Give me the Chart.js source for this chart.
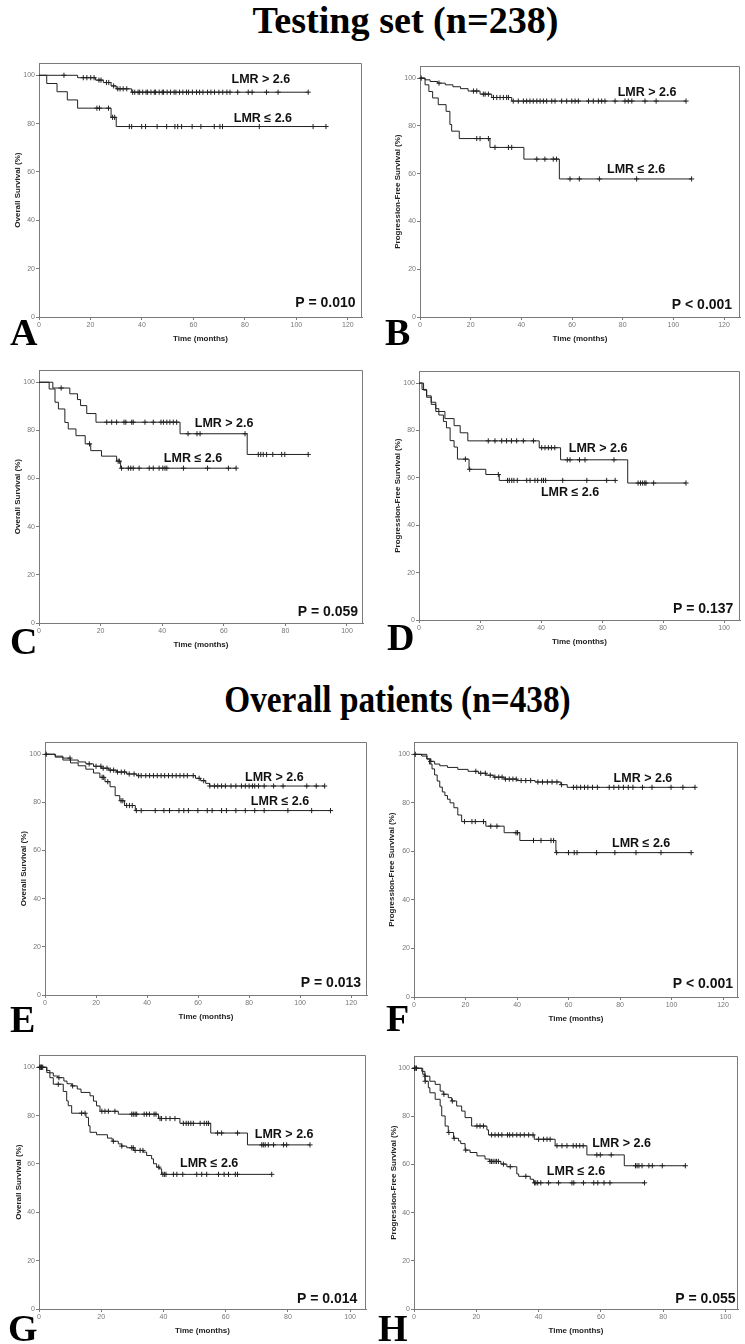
<!DOCTYPE html>
<html>
<head>
<meta charset="utf-8">
<script src="https://cdn.jsdelivr.net/npm/chart.js@4.4.1/dist/chart.umd.min.js"></script>
<style>
  body { margin: 0; background: #fff; width: 745px; height: 1344px; position: relative; overflow: hidden; }
  canvas { position: absolute; }
  .title { position: absolute; left: 0; width: 745px; text-align: center; font: bold 37px "Liberation Serif", "Times New Roman", serif; line-height: 37px; color: #000; transform-origin: 50% 50%; }
  .letter { position: absolute; font: bold 38px "Liberation Serif", "Times New Roman", serif; line-height: 38px; color: #000; }
</style>
</head>
<body>
<div class="title" style="top:2px; left:33px; transform:scaleX(1.03)">Testing set (n=238)</div>
<div class="title" style="top:681px; left:25px; transform:scaleX(0.9)">Overall patients (n=438)</div>
<script>
// Axis ticks and labels
const X_TICKS_120 = [0, 20, 40, 60, 80, 100, 120];
const X_TICKS_100 = [0, 20, 40, 60, 80, 100];
const Y_TICKS = [0, 20, 40, 60, 80, 100];
const GROUPS = ['LMR > 2.6', 'LMR \u2264 2.6'];
const OS_TITLE = 'Overall Survival (%)';
const PFS_TITLE = 'Progression-Free Survival (%)';
const P_VALUES = ['P = 0.010', 'P < 0.001', 'P = 0.059', 'P = 0.137', 'P = 0.013', 'P < 0.001', 'P = 0.014', 'P = 0.055'];

// Panel A - testing set OS (T = event times, S = survival %, C = censored times)
const A_hiT = [0, 15, 22, 25, 28, 30, 36];
const A_hiS = [100, 99.0, 98.0, 97.0, 95.6, 94.4, 93.0];
const A_hiC = [9.7, 17.2, 18.6, 20.1, 21.4, 23.3, 24.1, 26.2, 27.1, 29.0, 30.6, 31.5, 32.7, 34.1, 36.4, 37.2, 38.5, 39.1, 40.3, 41.6, 42.2, 43.5, 44.8, 45.3, 46.7, 47.9, 48.4, 49.8, 51.1, 52.5, 53.2, 54.6, 55.9, 57.3, 58.1, 59.6, 61.2, 62.4, 63.7, 65.5, 66.8, 68.2, 69.9, 71.4, 73.0, 74.2, 77.2, 81.3, 82.8, 88.4, 92.9, 104.6];
const A_loT = [0, 3, 7, 11, 15, 28, 30];
const A_loS = [100, 96.6, 93.2, 89.8, 86.4, 82.6, 78.8];
const A_loC = [22.5, 23.5, 27.0, 28.6, 29.4, 35.1, 36.0, 39.9, 41.4, 45.9, 49.6, 52.8, 53.9, 55.4, 59.5, 62.9, 68.1, 70.3, 71.3, 85.6, 106.5, 111.5];

// Panel B - testing set PFS
const B_hiT = [0, 2, 4, 7, 10, 13, 16, 19, 23.7, 28.3, 36.2];
const B_hiS = [100, 99.3, 98.6, 97.9, 97.2, 96.4, 95.6, 94.6, 93.3, 91.9, 90.4];
const B_hiC = [0.5, 7.5, 21.1, 22.4, 25.0, 25.7, 27.0, 29.0, 30.3, 31.6, 32.9, 34.2, 34.9, 36.8, 38.8, 40.8, 42.1, 43.4, 44.7, 46.1, 47.4, 48.7, 50.0, 52.0, 53.3, 55.9, 57.9, 59.9, 61.2, 62.5, 66.5, 68.4, 70.4, 71.7, 73.0, 77.0, 80.9, 82.2, 83.6, 88.8, 93.2, 105.0];
const B_loT = [0, 2, 3.5, 5, 7.2, 10.3, 11.8, 12.5, 15.5, 27.6, 41, 55];
const B_loS = [100, 97.2, 94.4, 91.7, 88.9, 86.1, 80.6, 77.8, 74.7, 71.0, 66.1, 57.8];
const B_loC = [22.4, 23.7, 27.0, 29.6, 34.9, 36.2, 46.1, 49.3, 52.6, 53.9, 59.2, 62.9, 70.8, 85.5, 107.2];

// Panel C
const C_hiT = [0, 4.5, 10, 12.5, 13.5, 15.5, 18.5, 45.8, 67.6];
const C_hiS = [100, 97.6, 95.2, 92.8, 90.3, 87.0, 83.4, 78.6, 70.0];
const C_hiC = [7.2, 22.0, 23.6, 25.2, 27.6, 28.2, 30.1, 30.6, 34.4, 37.1, 39.6, 40.4, 41.5, 42.5, 43.6, 44.7, 48.4, 51.3, 52.3, 66.9, 71.2, 72.0, 72.8, 73.9, 75.9, 78.8, 79.8, 87.4];
const C_loT = [0, 3.3, 5.2, 6.3, 8.4, 9.5, 12, 15, 16.8, 20.3, 25.2, 26.5];
const C_loS = [100, 97.2, 91.7, 88.9, 83.3, 80.6, 77.8, 74.4, 71.6, 69.3, 67.2, 64.3];
const C_loC = [16.4, 25.7, 26.1, 26.8, 29.0, 29.8, 30.6, 32.5, 35.8, 37.1, 39.0, 40.2, 40.9, 41.5, 46.9, 54.7, 61.5, 64.0];

// Panel D
const D_hiT = [0, 1.5, 2.5, 4, 5.5, 8.5, 11.5, 13.5, 16, 39.4, 46.4, 68.4];
const D_hiS = [100, 97.0, 94.0, 91.0, 88.0, 85.0, 82.0, 79.0, 75.6, 72.7, 67.6, 57.8];
const D_hiC = [22.7, 24.9, 27.1, 28.7, 30.3, 32.0, 34.2, 37.5, 40.2, 41.3, 42.4, 43.4, 44.5, 48.6, 49.5, 52.6, 54.4, 63.9, 71.8, 72.6, 73.3, 74.0, 74.4, 76.9, 87.5];
const D_loT = [0, 1, 2.5, 4, 5.5, 6.5, 8, 9, 10.2, 11.5, 12.6, 16.4, 21.9, 26.3];
const D_loS = [100, 97.3, 94.6, 91.9, 89.2, 86.5, 83.8, 81.1, 75.7, 73.0, 67.9, 63.6, 61.4, 58.9];
const D_loC = [15.2, 16.6, 26.0, 29.0, 29.6, 30.4, 31.1, 32.2, 35.3, 36.4, 38.0, 38.9, 40.2, 40.8, 41.5, 47.1, 55.0, 61.5, 64.3];

// Panel E - overall patients OS
const E_hiT = [0, 4, 7, 10, 13, 16, 19, 22, 25, 28, 32, 36, 59, 61, 63, 64.5];
const E_hiS = [100, 99.2, 98.4, 97.6, 96.8, 96.0, 95.0, 94.2, 93.4, 92.6, 91.8, 91.1, 90.0, 89.0, 87.9, 86.8];
const E_hiC = [0.5, 9.8, 17.3, 20.0, 21.9, 22.8, 24.3, 25.6, 26.9, 28.4, 29.9, 31.2, 33.0, 34.9, 36.7, 37.7, 39.5, 41.0, 42.5, 44.0, 45.5, 46.9, 48.4, 49.9, 51.4, 52.9, 54.4, 55.8, 58.1, 60.4, 62.2, 64.6, 66.4, 67.7, 69.2, 70.7, 72.9, 74.8, 77.0, 78.5, 80.0, 81.3, 82.2, 83.7, 85.9, 89.6, 93.3, 102.6, 106.3, 109.6];
const E_loT = [0, 4, 7, 10, 13, 16, 19, 21.5, 23.5, 25.5, 27.5, 29.3, 31.2, 35.4];
const E_loS = [100, 98.8, 97.6, 96.4, 95.2, 93.8, 92.2, 90.4, 88.6, 86.5, 82.8, 80.7, 78.7, 76.6];
const E_loC = [22.4, 23.0, 24.6, 29.8, 30.5, 32.0, 33.1, 34.2, 35.8, 37.7, 43.2, 46.6, 48.8, 52.5, 54.4, 56.2, 59.9, 63.6, 65.5, 69.2, 71.1, 74.8, 78.5, 82.2, 85.9, 95.2, 104.5, 111.9];

// Panel F - overall patients PFS
const F_hiT = [0, 3, 5, 6.5, 8, 10, 13, 17, 21, 25, 28, 31, 35, 40, 47, 57, 59.5];
const F_hiS = [100, 99.3, 98.2, 97.1, 96.0, 95.3, 94.6, 93.8, 93.0, 92.2, 91.4, 90.6, 89.8, 89.2, 88.6, 87.5, 86.4];
const F_hiC = [0.5, 6.5, 24.0, 25.9, 27.7, 29.6, 31.4, 32.9, 34.2, 35.5, 37.0, 38.4, 39.7, 41.6, 43.4, 45.3, 48.1, 49.9, 51.8, 53.6, 55.5, 57.3, 61.9, 63.2, 64.7, 66.2, 67.5, 69.3, 71.2, 75.8, 77.6, 79.5, 81.3, 83.2, 85.0, 88.7, 92.4, 99.8, 104.4, 109.1];
const F_loT = [0, 5, 6, 7, 8, 9, 10, 11, 12, 13, 14, 15.5, 17, 18.5, 27.9, 35.0, 41.1, 55.1];
const F_loS = [100, 98, 96, 94, 91.5, 89, 86.5, 84.5, 83, 81.5, 80, 78, 75, 72.3, 70.4, 67.7, 64.5, 59.5];
const F_loC = [19.6, 22.5, 23.8, 27.0, 29.8, 32.2, 39.6, 40.2, 46.4, 49.3, 53.2, 54.2, 55.4, 60.0, 62.2, 63.3, 70.9, 78.0, 86.2, 95.9, 107.6];

// Panel G
const G_hiT = [0, 2.5, 3.5, 4.6, 6, 8, 9, 10.5, 12.3, 13.5, 16.4, 17.5, 18.5, 19.6, 25.5, 38.4, 45.3, 55.2, 67.0];
const G_hiS = [100, 98.7, 97.7, 96.4, 95.7, 94.3, 93.2, 92.3, 91.0, 89.6, 88.2, 86.0, 84.0, 81.8, 80.6, 78.8, 76.8, 72.8, 67.9];
const G_hiC = [0.3, 0.6, 0.9, 1.2, 6.4, 10.8, 20.2, 21.2, 22.3, 24.4, 29.8, 30.3, 30.9, 31.4, 33.8, 34.6, 35.5, 37.0, 37.6, 38.9, 39.4, 40.8, 42.1, 43.7, 46.4, 47.3, 48.0, 48.8, 49.6, 51.8, 53.1, 53.9, 54.5, 57.4, 58.7, 63.8, 71.6, 72.1, 72.7, 73.7, 75.4, 78.6, 79.6, 87.1];
const G_loT = [0, 2.5, 3.5, 4.6, 7.8, 8.9, 9.4, 10.5, 15.1, 15.9, 16.4, 18.5, 22, 23.5, 25.5, 26.6, 28.2, 30.5, 33.5, 34.6, 36.2, 36.8, 37.8, 38.7, 39.4];
const G_loS = [100, 97.8, 95.7, 93.0, 90.0, 86.1, 84.1, 81.0, 79.3, 75.8, 73.1, 72.1, 70.7, 69.4, 68.3, 67.4, 66.7, 65.6, 64.9, 63.5, 62.1, 60.1, 58.7, 58.0, 55.7];
const G_loC = [0.3, 0.8, 6.2, 13.7, 14.8, 23.9, 26.6, 29.8, 30.3, 30.9, 32.5, 33.4, 38.5, 39.8, 40.3, 40.8, 43.2, 44.3, 46.2, 50.7, 52.3, 53.9, 57.7, 59.5, 60.9, 63.1, 63.8, 74.8];

// Panel H
const H_hiT = [0, 2.5, 3.5, 5.1, 6.8, 8.4, 9.4, 11.0, 12.1, 13.7, 15.3, 16.4, 18.5, 23.4, 23.9, 38.6, 45.3, 55.5, 67.5];
const H_hiS = [100, 98.7, 96.7, 94.6, 93.3, 90.5, 89.2, 87.8, 86.4, 84.3, 82.2, 79.5, 76.0, 74.4, 72.3, 70.5, 67.8, 64.0, 59.5];
const H_hiC = [0.2, 0.6, 3.6, 9.6, 12.3, 20.2, 21.2, 22.3, 24.9, 26.0, 27.1, 28.2, 30.0, 30.7, 31.7, 33.0, 34.1, 35.4, 36.8, 38.2, 40.0, 41.6, 42.7, 43.7, 45.9, 47.5, 49.1, 51.1, 52.1, 53.2, 54.3, 58.7, 59.8, 63.3, 71.1, 71.6, 72.2, 73.2, 75.4, 76.5, 79.7, 87.1];
const H_loT = [0, 2.8, 3.5, 4.6, 5.1, 6.8, 8.4, 8.9, 10.0, 11.0, 12.7, 14.3, 15.0, 16.4, 18.0, 20.2, 22.8, 24.2, 27.9, 29.8, 33.0, 33.6, 37.3, 38.4];
const H_loS = [100, 97.5, 94.6, 91.9, 89.8, 87.1, 84.3, 80.2, 76.0, 73.3, 70.9, 69.8, 68.7, 66.0, 65.0, 63.6, 62.3, 61.3, 60.2, 59.1, 56.1, 55.1, 53.9, 52.4];
const H_loC = [0.2, 0.8, 3.6, 11.2, 12.9, 16.6, 24.4, 24.9, 25.4, 26.0, 26.5, 27.1, 28.7, 30.9, 35.9, 38.7, 39.1, 39.7, 40.7, 43.2, 46.4, 50.7, 51.3, 54.4, 57.7, 59.0, 61.0, 62.9, 74.0];

const SANS = '"Liberation Sans", Arial, sans-serif';
const INK = '#222';
const EDGE = '#7a7a7a';
const TICK = '#777';

// panel layout in page pixels: plot box edges, x range, label anchors (data units)
const panels = [
  { id: 'A', col: 0, left: 39, right: 362, top: 62, bottom: 317, xMax: 125.5, xTicks: X_TICKS_120, yTitle: OS_TITLE, yTitleX: 18,
    hi: [A_hiT, A_hiS, A_hiC], lo: [A_loT, A_loS, A_loC], hiAt: [86.2, 98.1], loAt: [87, 82.2], pAt: [123, 5.8], p: P_VALUES[0], letter: [10, 345] },
  { id: 'B', col: 1, left: 420, right: 740, top: 65, bottom: 317, xMax: 126.3, xTicks: X_TICKS_120, yTitle: PFS_TITLE, yTitleX: 398,
    hi: [B_hiT, B_hiS, B_hiC], lo: [B_loT, B_loS, B_loC], hiAt: [89.6, 93.8], loAt: [85.3, 61.7], pAt: [123.2, 5], p: P_VALUES[1], letter: [385, 345] },
  { id: 'C', col: 0, left: 39, right: 363, top: 369, bottom: 623, xMax: 105.2, xTicks: X_TICKS_100, yTitle: OS_TITLE, yTitleX: 18,
    hi: [C_hiT, C_hiS, C_hiC], lo: [C_loT, C_loS, C_loC], hiAt: [60.1, 82.8], loAt: [50, 68.3], pAt: [103.6, 4.6], p: P_VALUES[2], letter: [10, 654] },
  { id: 'D', col: 1, left: 419, right: 740, top: 370, bottom: 620, xMax: 105.2, xTicks: X_TICKS_100, yTitle: PFS_TITLE, yTitleX: 398,
    hi: [D_hiT, D_hiS, D_hiC], lo: [D_loT, D_loS, D_loC], hiAt: [58.7, 72.2], loAt: [49.5, 53.7], pAt: [103, 4.6], p: P_VALUES[3], letter: [387, 650] },
  { id: 'E', col: 0, left: 45, right: 369, top: 741, bottom: 995, xMax: 126.2, xTicks: X_TICKS_120, yTitle: OS_TITLE, yTitleX: 24,
    hi: [E_hiT, E_hiS, E_hiC], lo: [E_loT, E_loS, E_loC], hiAt: [89.9, 90.3], loAt: [92.1, 80.3], pAt: [123.9, 5], p: P_VALUES[4], letter: [10, 1032] },
  { id: 'F', col: 1, left: 414, right: 738, top: 741, bottom: 997, xMax: 125.8, xTicks: X_TICKS_120, yTitle: PFS_TITLE, yTitleX: 392,
    hi: [F_hiT, F_hiS, F_hiC], lo: [F_loT, F_loS, F_loC], hiAt: [88.9, 90.0], loAt: [88.2, 63.3], pAt: [123.9, 5.3], p: P_VALUES[5], letter: [386, 1031] },
  { id: 'G', col: 0, left: 39, right: 366, top: 1054, bottom: 1309, xMax: 105.1, xTicks: X_TICKS_100, yTitle: OS_TITLE, yTitleX: 19,
    hi: [G_hiT, G_hiS, G_hiC], lo: [G_loT, G_loS, G_loC], hiAt: [78.8, 72.1], loAt: [54.7, 60.2], pAt: [102.3, 4], p: P_VALUES[6], letter: [8, 1341] },
  { id: 'H', col: 1, left: 414, right: 738, top: 1055, bottom: 1309, xMax: 104, xTicks: X_TICKS_100, yTitle: PFS_TITLE, yTitleX: 394,
    hi: [H_hiT, H_hiS, H_hiC], lo: [H_loT, H_loS, H_loC], hiAt: [66.6, 68.6], loAt: [52, 57.1], pAt: [103.2, 4], p: P_VALUES[7], letter: [378, 1341] }
];

// survival value in effect at time t (step function)
function survAt(times, surv, t) {
  let s = surv[0];
  for (let i = 0; i < times.length; i++) {
    if (times[i] <= t) s = surv[i];
  }
  return s;
}

function stepPoints([times, surv, cens]) {
  const pts = times.map((t, i) => ({ x: t, y: surv[i] }));
  const end = Math.max(times[times.length - 1], ...cens);
  pts.push({ x: end, y: surv[surv.length - 1] });
  return pts;
}

function censorPoints([times, surv, cens]) {
  return cens.map(t => ({ x: t, y: survAt(times, surv, t) }));
}

function drawPanel(p) {
  const cl = p.col ? 372 : 0;
  const cw = p.col ? 373 : 372;
  const ct = p.top - 4;
  const ch = p.bottom + 32 - ct;

  const cv = document.createElement('canvas');
  cv.width = cw;
  cv.height = ch;
  cv.style.left = cl + 'px';
  cv.style.top = ct + 'px';
  cv.style.width = cw + 'px';
  cv.style.height = ch + 'px';
  document.body.appendChild(cv);

  const letter = document.createElement('div');
  letter.className = 'letter';
  letter.textContent = p.id;
  letter.style.left = p.letter[0] + 'px';
  letter.style.top = (p.letter[1] - 32) + 'px';
  document.body.appendChild(letter);

  const line = data => ({ data, showLine: true, stepped: true, borderColor: INK, borderWidth: 1, pointRadius: 0, fill: false });
  const cross = data => ({ data, showLine: false, pointStyle: 'cross', pointRadius: 2.6, pointBorderColor: INK, pointBorderWidth: 1, pointBackgroundColor: INK, clip: false });

  const notes = [
    { text: GROUPS[0], at: p.hiAt, size: 12.5, align: 'center' },
    { text: GROUPS[1], at: p.loAt, size: 12.5, align: 'center' },
    { text: p.p, at: p.pAt, size: 14, align: 'right' }
  ];

  // frame: top and right edges of the plot box
  const frame = {
    id: 'frame',
    afterDraw(chart) {
      const { ctx, chartArea: a } = chart;
      ctx.save();
      ctx.strokeStyle = EDGE;
      ctx.lineWidth = 1;
      ctx.beginPath();
      ctx.moveTo(a.left, Math.round(a.top) + 0.5);
      ctx.lineTo(Math.round(a.right) - 0.5, Math.round(a.top) + 0.5);
      ctx.lineTo(Math.round(a.right) - 0.5, a.bottom);
      ctx.stroke();
      ctx.restore();
    }
  };

  // group labels and p value inside the plot
  const labels = {
    id: 'labels',
    afterDatasetsDraw(chart) {
      const { ctx, scales: { x, y } } = chart;
      ctx.save();
      ctx.fillStyle = '#111';
      ctx.textBaseline = 'middle';
      notes.forEach(n => {
        ctx.font = 'bold ' + n.size + 'px ' + SANS;
        ctx.textAlign = n.align;
        ctx.fillText(n.text, x.getPixelForValue(n.at[0]), y.getPixelForValue(n.at[1]));
      });
      ctx.restore();
    }
  };

  new Chart(cv, {
    type: 'scatter',
    data: {
      datasets: [line(stepPoints(p.hi)), cross(censorPoints(p.hi)), line(stepPoints(p.lo)), cross(censorPoints(p.lo))]
    },
    options: {
      responsive: false,
      animation: false,
      devicePixelRatio: 1,
      layout: { padding: { top: 4, right: cl + cw - p.right, left: 0, bottom: 0 } },
      plugins: { legend: { display: false }, tooltip: { enabled: false } },
      scales: {
        x: {
          type: 'linear', min: 0, max: p.xMax,
          afterBuildTicks: s => { s.ticks = p.xTicks.map(v => ({ value: v })); },
          afterFit: s => { s.height = 32; },
          grid: { drawOnChartArea: false, drawTicks: true, tickLength: 3, color: EDGE },
          border: { color: EDGE },
          ticks: { color: TICK, font: { family: SANS, size: 7 }, padding: 1, maxRotation: 0, autoSkip: false },
          title: { display: true, text: 'Time (months)', color: INK, font: { family: SANS, size: 8, weight: 'bold' }, padding: { top: 0, bottom: 5.2 } }
        },
        y: {
          type: 'linear', min: 0, max: 105,
          afterBuildTicks: s => { s.ticks = Y_TICKS.map(v => ({ value: v })); },
          afterFit: s => { s.width = p.left - cl; },
          grid: { drawOnChartArea: false, drawTicks: true, tickLength: 3, color: EDGE },
          border: { color: EDGE },
          ticks: { color: TICK, font: { family: SANS, size: 7 }, padding: 1, autoSkip: false },
          title: { display: true, text: p.yTitle, color: INK, font: { family: SANS, size: 8, weight: 'bold' }, padding: { top: p.yTitleX - cl - 4.8, bottom: 0 } }
        }
      }
    },
    plugins: [frame, labels]
  });
}

panels.forEach(drawPanel);
</script>
</body>
</html>
